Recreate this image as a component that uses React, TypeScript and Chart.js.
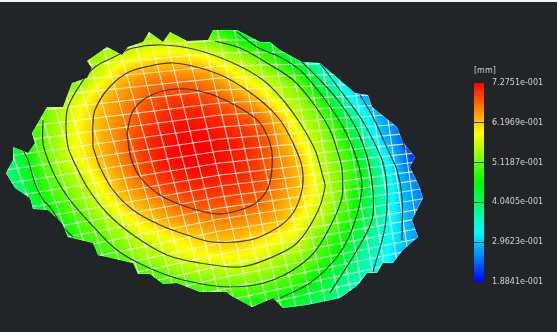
import React, { useEffect, useRef } from "react";
import { Chart, registerables } from "chart.js";

Chart.register(...registerables);

// Legend
const legendValues = [0.18841, 0.29623, 0.40405, 0.51187, 0.61969, 0.72751];
const legendLabels = ["1.8841e-001", "2.9623e-001", "4.0405e-001", "5.1187e-001", "6.1969e-001", "7.2751e-001"];
const unitLabel = "[mm]";

// Displacement field (mm x 100) sampled on a regular grid of the drawing plane
const fieldX = [0, 20, 40, 60, 80, 100, 120, 140, 160, 180, 200, 220, 240, 260, 280, 300, 320, 340, 360, 380, 400, 420, 440];
const fieldY = [20, 40, 60, 80, 100, 120, 140, 160, 180, 200, 220, 240, 260, 280, 300, 320];
const fieldY20 = [28, 30, 32, 34, 38, 42, 44, 46, 48, 49, 49, 44, 41, 38, 36, 34, 31, 28, 25, 22, 20, 19, 19];
const fieldY40 = [30, 32, 36, 40, 46, 50, 52, 54, 55.5, 55, 53, 51, 46.3, 43.8, 41, 37, 33, 29, 25, 22, 20, 19, 19];
const fieldY60 = [32, 35, 40, 47, 52, 55, 58, 60, 61, 61.5, 60.5, 58, 55, 51.5, 47, 40.5, 34.5, 30, 26, 23, 20, 19, 19];
const fieldY80 = [34, 37, 42, 48, 53.5, 58, 62.5, 65, 66.5, 66.5, 66, 64, 60, 57, 53.5, 49, 40.4, 32, 26, 22, 20, 19, 19];
const fieldY100 = [36, 42, 49, 54, 58, 62, 65, 67, 69, 70, 69.5, 67.8, 65.5, 62.3, 57.3, 53.3, 47.7, 39, 30.5, 27, 25, 21, 19];
const fieldY120 = [36, 44, 50.5, 55, 59.5, 63, 65.7, 68.5, 70.5, 71.5, 71.5, 70.5, 69, 66.8, 62.7, 56.2, 52, 45, 36, 28.5, 25.5, 22, 19];
const fieldY140 = [38, 45, 50.5, 55.3, 59.7, 63, 66.2, 69.5, 71.5, 72.5, 72.7, 72, 71, 69, 64.5, 59.5, 54.3, 49, 40.4, 31, 25, 20, 19];
const fieldY160 = [38, 43, 49.4, 54.6, 59, 62.5, 65.8, 69, 71.3, 72.5, 72.7, 72, 71, 69.2, 65.7, 62, 56, 51.2, 44.5, 35.8, 27, 20, 19];
const fieldY180 = [37, 42, 47.2, 52, 55.8, 60, 63.8, 67, 69.8, 71, 71.5, 71.2, 70.5, 69, 66, 62.3, 57.5, 51.8, 45.8, 37.5, 29, 25, 22];
const fieldY200 = [33, 38, 45, 49.5, 53, 57.2, 61.5, 64, 66.1, 68.2, 69, 69, 68.5, 67.4, 64.5, 61.5, 57, 51.5, 44.5, 37.5, 30, 26, 24];
const fieldY220 = [30, 34, 40, 46, 50, 53.5, 57.5, 60.5, 63, 64.8, 65.5, 66, 65.5, 64.5, 62.8, 59, 55, 49.5, 44, 37, 30, 26.5, 25];
const fieldY240 = [28, 30, 35, 42, 47.5, 50, 53, 56.3, 58, 60, 61.5, 62.5, 62.2, 60.5, 58.7, 56.6, 50.7, 46.5, 41, 35, 30, 27, 26];
const fieldY260 = [26, 27, 30, 36, 41, 46, 49.5, 52.7, 54.5, 56.8, 58, 58.5, 58.2, 57.2, 54.5, 52.5, 48.5, 44, 38, 34, 29, 26, 25];
const fieldY280 = [24, 25, 27, 30, 34, 38, 42, 46, 49, 51, 52.2, 52.8, 52.8, 52, 50.5, 48, 44.5, 40, 36.5, 33, 28, 25, 24];
const fieldY300 = [22, 23, 24, 26, 28, 31, 34, 38, 41, 44, 46, 47, 47.5, 47, 45.5, 43.5, 41, 38, 34, 30, 26, 24, 23];
const fieldY320 = [20, 21, 22, 23, 24, 26, 28, 30, 34, 38, 40, 41, 41, 41, 40, 38, 35, 32, 29, 26, 24, 22, 21];
const fieldRows = [fieldY20, fieldY40, fieldY60, fieldY80, fieldY100, fieldY120, fieldY140, fieldY160, fieldY180, fieldY200, fieldY220, fieldY240, fieldY260, fieldY280, fieldY300, fieldY320];

// Boundary of the part
const outline: number[][] = [[13,147],[28,153],[35,143],[32,133],[47,107],[63,107],[72,83],[87,78],[92,68],[87,61],[107,47],[122,55],[128,47],[143,42],[149,32],[163,42],[170,32],[187,41],[208,40],[213,30],[237,30],[260,42],[270,42],[280,50],[302,62],[320,63],[355,93],[368,95],[372,107],[397,127],[403,142],[415,157],[410,167],[420,188],[423,198],[412,220],[418,237],[403,250],[393,263],[383,263],[377,273],[367,273],[358,285],[340,298],[307,305],[283,308],[273,298],[252,307],[230,295],[227,292],[200,292],[177,283],[163,284],[150,274],[138,274],[133,263],[98,255],[93,243],[68,237],[62,223],[48,210],[33,209],[30,198],[15,188],[6,173],[13,160],[13,147]];

// Mesh: long lines, [x at top, x at bottom]
const meshColTop = [-51, -36, -21, -7, 9, 26, 42, 60, 77, 95, 111, 129, 145, 161, 180, 199, 215, 232, 251, 267, 283, 299, 314, 329, 344, 359, 373, 387, 400];
const meshColBottom = [60, 72, 84, 96, 110, 124, 138, 153, 167, 183, 197, 212, 226, 239, 255, 271, 284, 299, 315, 329, 343, 356, 368, 381, 393, 406, 418, 430, 441];
const meshColY = [20, 320];
// Mesh: cross lines, y at left, middle and right
const meshRowLeft = [43.8, 57.6, 72.5, 87.3, 101, 114.8, 129.6, 143.4, 157, 170.7, 184.4, 198.2, 212, 224.5, 237, 249.6, 262.2, 275.9, 289.6, 302.2, 316, 329.7, 343.4, 357, 370.8];
const meshRowMid = [28, 40, 53, 66, 78, 90, 103, 115, 127, 139, 151, 163, 175, 186, 197, 208, 219, 231, 243, 254, 266, 278, 290, 302, 314];
const meshRowRight = [30.2, 40, 50.6, 61.2, 71, 80.8, 91.4, 101.2, 111, 120.9, 130.6, 140.4, 150.2, 159.2, 168.2, 177.2, 186.2, 196, 205.8, 214.8, 224.6, 234.4, 244.2, 254, 263.8];
const meshRowX = [0, 220, 440];

// Isolines
const contour1 = [[127,133],[132,113],[143,100],[163,91],[187,89],[213,95],[240,108],[260,123],[271,147],[272,168],[268,188],[257,202],[240,210],[217,214],[187,207],[160,195],[140,177],[131,158],[127,133]];
const contour2 = [[93,147],[93,123],[95,110],[107,90],[127,73],[150,66],[173,63],[200,68],[227,78],[260,100],[280,120],[293,143],[302,167],[302,190],[293,213],[277,228],[250,240],[213,242],[187,235],[160,225],[133,210],[113,190],[100,167],[93,147]];
const contour3 = [[73,160],[68,147],[66,127],[68,107],[82,82],[95,67],[114,57],[133,48],[163,45],[197,50],[233,63],[263,80],[283,100],[300,123],[315,150],[323,177],[325,187],[317,213],[297,243],[270,258],[240,267],[200,263],[167,255],[133,235],[107,213],[87,187],[73,160]];
const contour4 = [[43,120],[43,143],[48,160],[57,180],[70,200],[90,223],[117,250],[147,267],[183,280],[230,287],[273,280],[310,257],[330,227],[342,197],[342,170],[340,160],[330,130],[313,103],[293,80],[267,63],[240,48],[215,41]];
const contour5 = [[237,32],[257,47],[280,57],[300,70],[323,97],[343,127],[357,160],[362,188],[353,227],[337,257],[310,283],[280,298]];
const contour5b = [[22,148],[28,160],[35,183],[43,200],[50,207],[63,227],[73,237]];
const contour6 = [[302,62],[320,80],[340,103],[357,130],[368,160],[373,193],[372,220],[357,250],[330,293]];
const contour7 = [[320,63],[340,90],[360,117],[373,140],[383,163],[387,190],[385,227],[373,272]];
const contour8 = [[360,95],[373,117],[388,150],[397,170],[402,197],[402,240]];
const contour9 = [[403,140],[405,150]];
const contours = [contour1, contour2, contour3, contour4, contour5, contour5b, contour6, contour7, contour8, contour9];

const VMIN = legendValues[0];
const VMAX = legendValues[legendValues.length - 1];
const hueOf = (mm: number) => 240 * (1 - Math.min(1, Math.max(0, (mm - VMIN) / (VMAX - VMIN))));
function hueRgb(h: number): number[] {
  const f = (n: number) => {
    const k = (n + h / 30) % 12;
    return 255 * (0.5 - 0.5 * Math.max(-1, Math.min(k - 3, 9 - k, 1)));
  };
  return [f(0), f(8), f(4)];
}

// Smooth rendering between the grid samples
function cr(p0: number, p1: number, p2: number, p3: number, t: number) {
  return p1 + 0.5 * t * (p2 - p0 + t * (2 * p0 - 5 * p1 + 4 * p2 - p3 + t * (3 * (p1 - p2) + p3 - p0)));
}
const at = (j: number, i: number) =>
  fieldRows[Math.max(0, Math.min(fieldRows.length - 1, j))][Math.max(0, Math.min(fieldX.length - 1, i))];
function sampleField(x: number, y: number): number {
  const cx = Math.max(0, Math.min(fieldX.length - 1.001, (x - fieldX[0]) / (fieldX[1] - fieldX[0])));
  const cy = Math.max(0, Math.min(fieldY.length - 1.001, (y - fieldY[0]) / (fieldY[1] - fieldY[0])));
  const i = Math.floor(cx), j = Math.floor(cy);
  const a = cx - i, b = cy - j;
  const r = [-1, 0, 1, 2].map((d) => cr(at(j + d, i - 1), at(j + d, i), at(j + d, i + 1), at(j + d, i + 2), a));
  return cr(r[0], r[1], r[2], r[3], b) / 100;
}

function outlinePath(chart: any) {
  const { ctx, scales } = chart;
  ctx.beginPath();
  outline.forEach(([x, y], i) => {
    const px = scales.x.getPixelForValue(x), py = scales.y.getPixelForValue(y);
    if (i === 0) ctx.moveTo(px, py); else ctx.lineTo(px, py);
  });
  ctx.closePath();
}

const fieldPlugin = {
  id: "fieldPlugin",
  beforeDatasetsDraw(chart: any) {
    const { ctx, chartArea: a, scales } = chart;
    const w = Math.round(a.right - a.left), h = Math.round(a.bottom - a.top);
    const off = document.createElement("canvas");
    off.width = w; off.height = h;
    const octx = off.getContext("2d")!;
    const img = octx.createImageData(w, h);
    for (let py = 0; py < h; py++) {
      const dy = scales.y.getValueForPixel(a.top + py + 0.5);
      for (let px = 0; px < w; px++) {
        const dx = scales.x.getValueForPixel(a.left + px + 0.5);
        if (dx > 440 || dy < 20) continue;
        const [r, g, b] = hueRgb(hueOf(sampleField(dx, dy)));
        const o = (py * w + px) * 4;
        img.data[o] = r; img.data[o + 1] = g; img.data[o + 2] = b; img.data[o + 3] = 255;
      }
    }
    octx.putImageData(img, 0, 0);
    ctx.save();
    outlinePath(chart);
    ctx.clip();
    ctx.drawImage(off, a.left, a.top);
    ctx.restore();
  },
  beforeDatasetDraw(chart: any, args: any) {
    if (args.meta._dataset?.clipToPart) {
      chart.ctx.save();
      outlinePath(chart);
      chart.ctx.clip();
    }
  },
  afterDatasetDraw(chart: any, args: any) {
    if (args.meta._dataset?.clipToPart) chart.ctx.restore();
  },
};

const toPts = (l: number[][]) => l.map(([x, y]) => ({ x, y }));

export default function App() {
  const mainRef = useRef<HTMLCanvasElement>(null);
  const legendRef = useRef<HTMLCanvasElement>(null);

  useEffect(() => {
    const base = { showLine: true, pointRadius: 0, pointHoverRadius: 0, clip: false as any, clipToPart: true };
    const datasets: any[] = [];
    meshColTop.forEach((t, i) => {
      datasets.push({ ...base, label: "mesh", order: 2, borderColor: "rgba(255,255,255,0.8)", borderWidth: 1.1,
        data: [{ x: t, y: meshColY[0] }, { x: meshColBottom[i], y: meshColY[1] }] });
    });
    meshRowMid.forEach((m, i) => {
      datasets.push({ ...base, label: "mesh", order: 2, borderColor: "rgba(255,255,255,0.8)", borderWidth: 1.1,
        data: [{ x: meshRowX[0], y: meshRowLeft[i] }, { x: meshRowX[1], y: m }, { x: meshRowX[2], y: meshRowRight[i] }] });
    });
    datasets.push({ ...base, label: "outline", order: 1, borderColor: "rgba(255,255,255,0.5)", borderWidth: 1, data: toPts(outline) });
    contours.forEach((c) => {
      datasets.push({ ...base, label: "isoline", order: 0, borderColor: "rgba(40,40,25,0.9)", borderWidth: 1.2, tension: 0.35, data: toPts(c) });
    });

    const main = new Chart(mainRef.current!, {
      type: "scatter",
      data: { datasets },
      plugins: [fieldPlugin],
      options: {
        animation: false,
        responsive: false,
        events: [],
        layout: { padding: 0 },
        plugins: { legend: { display: false }, tooltip: { enabled: false } },
        scales: {
          x: { type: "linear", min: 0, max: 557, display: false },
          y: { type: "linear", min: 2, max: 332, reverse: true, display: false },
        },
      } as any,
    });

    const legend = new Chart(legendRef.current!, {
      type: "bar",
      data: {
        labels: [unitLabel],
        datasets: [{
          data: [[VMIN, VMAX]] as any,
          barPercentage: 1,
          categoryPercentage: 1,
          backgroundColor: (c: any) => {
            const { chart } = c;
            if (!chart.chartArea) return "#0f0";
            const s = chart.scales.y;
            const g = chart.ctx.createLinearGradient(0, s.getPixelForValue(VMAX), 0, s.getPixelForValue(VMIN));
            for (let k = 0; k <= 12; k++) {
              const [r, gg, b] = hueRgb(20 * k);
              g.addColorStop(k / 12, `rgb(${r},${gg},${b})`);
            }
            return g;
          },
        }],
      },
      options: {
        animation: false,
        responsive: false,
        events: [],
        layout: { padding: { left: 34, top: 23, bottom: 18, right: 0 } },
        plugins: { legend: { display: false }, tooltip: { enabled: false } },
        scales: {
          x: { display: false },
          y: {
            position: "right",
            min: VMIN,
            max: VMAX,
            afterBuildTicks: (s: any) => { s.ticks = legendValues.map((value) => ({ value })); },
            afterFit: (s: any) => { s.width = 73; },
            border: { display: false },
            grid: {
              z: 1,
              drawTicks: false,
              color: (c: any) => (c.index === 0 || c.index === legendValues.length - 1 ? "rgba(0,0,0,0)" : "rgba(50,45,20,0.9)"),
            },
            ticks: {
              autoSkip: false,
              padding: 8,
              maxRotation: 0,
              color: "#d0d0d0",
              font: { family: "DejaVu Sans", size: 8 },
              callback: (_v: any, i: number) => legendLabels[i],
            },
          },
        },
      } as any,
    });

    return () => { main.destroy(); legend.destroy(); };
  }, []);

  return (
    <div style={{ position: "fixed", left: 0, top: 0, width: 557, height: 332, background: "#f4f4f4", overflow: "hidden" }}>
      <canvas ref={mainRef} width={557} height={330} style={{ position: "absolute", left: 0, top: 2, width: 557, height: 330, background: "#222527", display: "block", filter: "blur(0.35px)" }} />
      <canvas ref={legendRef} width={117} height={240} style={{ position: "absolute", left: 440, top: 60, width: 117, height: 240, display: "block" }} />
      <div style={{ position: "absolute", left: 474, top: 66, fontFamily: "DejaVu Sans", fontSize: 8, lineHeight: "10px", color: "#d0d0d0" }}>{unitLabel}</div>
    </div>
  );
}
